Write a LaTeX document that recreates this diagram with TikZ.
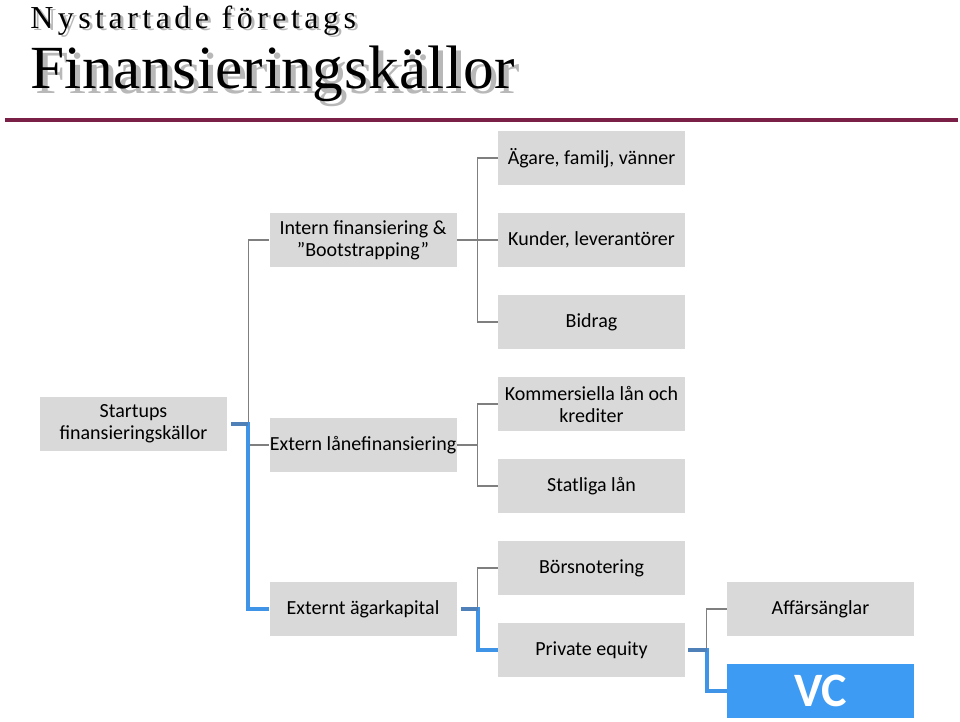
\documentclass[tikz,border=0pt]{standalone}
\usepackage{fontspec}
\setmainfont{Carlito}
\newfontfamily\titlefont{Liberation Serif}
\definecolor{boxgray}{HTML}{D9D9D9}
\definecolor{linegray}{HTML}{7F7F7F}
\definecolor{hlblue}{HTML}{3F94E8}
\definecolor{stubblue}{HTML}{4F80B8}
\definecolor{vcblue}{HTML}{3D9BF4}
\definecolor{maroon}{HTML}{7A1F45}
\definecolor{shadowgray}{HTML}{B8B8B8}
\tikzset{
  box/.style={fill=boxgray, minimum width=140.25pt, minimum height=40.5pt, inner sep=0pt, align=center, font=\fontsize{15}{16.5}\selectfont},
  conn/.style={draw=linegray, line width=1.1pt},
  hl/.style={draw=hlblue, line width=3pt},
  stub/.style={draw=stubblue, line width=3pt},
  ttl/.style={anchor=base west, inner sep=0pt},
}
\begin{document}
\begin{tikzpicture}[x=0.75pt,y=-0.75pt]
\useasboundingbox (0,0) rectangle (960,721);
% title
\node[ttl, text=shadowgray] (t1s) at (33,31) {\titlefont\fontsize{24}{25}\selectfont\addfontfeature{LetterSpace=14}Nystartade företags};
\node[ttl] (t1) at (30,28) {\titlefont\fontsize{24}{25}\selectfont\addfontfeature{LetterSpace=14}Nystartade företags};
\node[ttl, text=shadowgray] (t2s) at (35,93) {\titlefont\fontsize{46}{48}\selectfont\addfontfeature{LetterSpace=1}Finansieringskällor};
\node[ttl] (t2) at (30,88) {\titlefont\fontsize{46}{48}\selectfont\addfontfeature{LetterSpace=1}Finansieringskällor};
\draw[maroon, line width=2.4pt] (5,120) -- (958,120);
% boxes
\node[box] (start) at (133.5,424) {Startups\\finansieringskällor};
\node[box] (intern) at (363,240) {Intern finansiering \&\\”Bootstrapping”};
\node[box] (extlan) at (363,445) {Extern lånefinansiering};
\node[box] (extag) at (363,609) {Externt ägarkapital};
\node[box] (agare) at (591.5,158) {Ägare, familj, vänner};
\node[box] (kunder) at (591.5,240) {Kunder, leverantörer};
\node[box] (bidrag) at (591.5,322) {Bidrag};
\node[box] (komm) at (591.5,404) {Kommersiella lån och\\krediter};
\node[box] (statl) at (591.5,486) {Statliga lån};
\node[box] (bors) at (591.5,568) {Börsnotering};
\node[box] (pe) at (591.5,650) {Private equity};
\node[box] (aff) at (820.5,609) {Affärsänglar};
\node[box, fill=vcblue, text=white, font=\fontsize{36}{38}\selectfont\bfseries] (vc) at (820.5,691) {VC};
% connectors
\draw[conn] (intern.west) -- ++(-21,0) |- (extlan.west);
\draw[hl] (start.east) ++(4,0) -- ++(17,0) |- (extag.west);
\draw[stub] (start.east) ++(4,0) -- ++(17,0);
\draw[conn] (agare.west) -- ++(-20,0) |- (bidrag.west);
\draw[conn] (intern.east) -- (kunder.west);
\draw[conn] (komm.west) -- ++(-20,0) |- (statl.west);
\draw[conn] (extlan.east) -- ++(21,0);
\draw[conn] (bors.west) -- ++(-20,0) -- ++(0,41);
\draw[hl] (extag.east) ++(4,0) -- ++(17,0) |- (pe.west);
\draw[stub] (extag.east) ++(4,0) -- ++(17,0);
\draw[conn] (aff.west) -- ++(-20,0) -- ++(0,41);
\draw[hl] (pe.east) ++(3,0) -- ++(19,0) |- (vc.west);
\draw[stub] (pe.east) ++(3,0) -- ++(19,0);
\end{tikzpicture}
\end{document}
